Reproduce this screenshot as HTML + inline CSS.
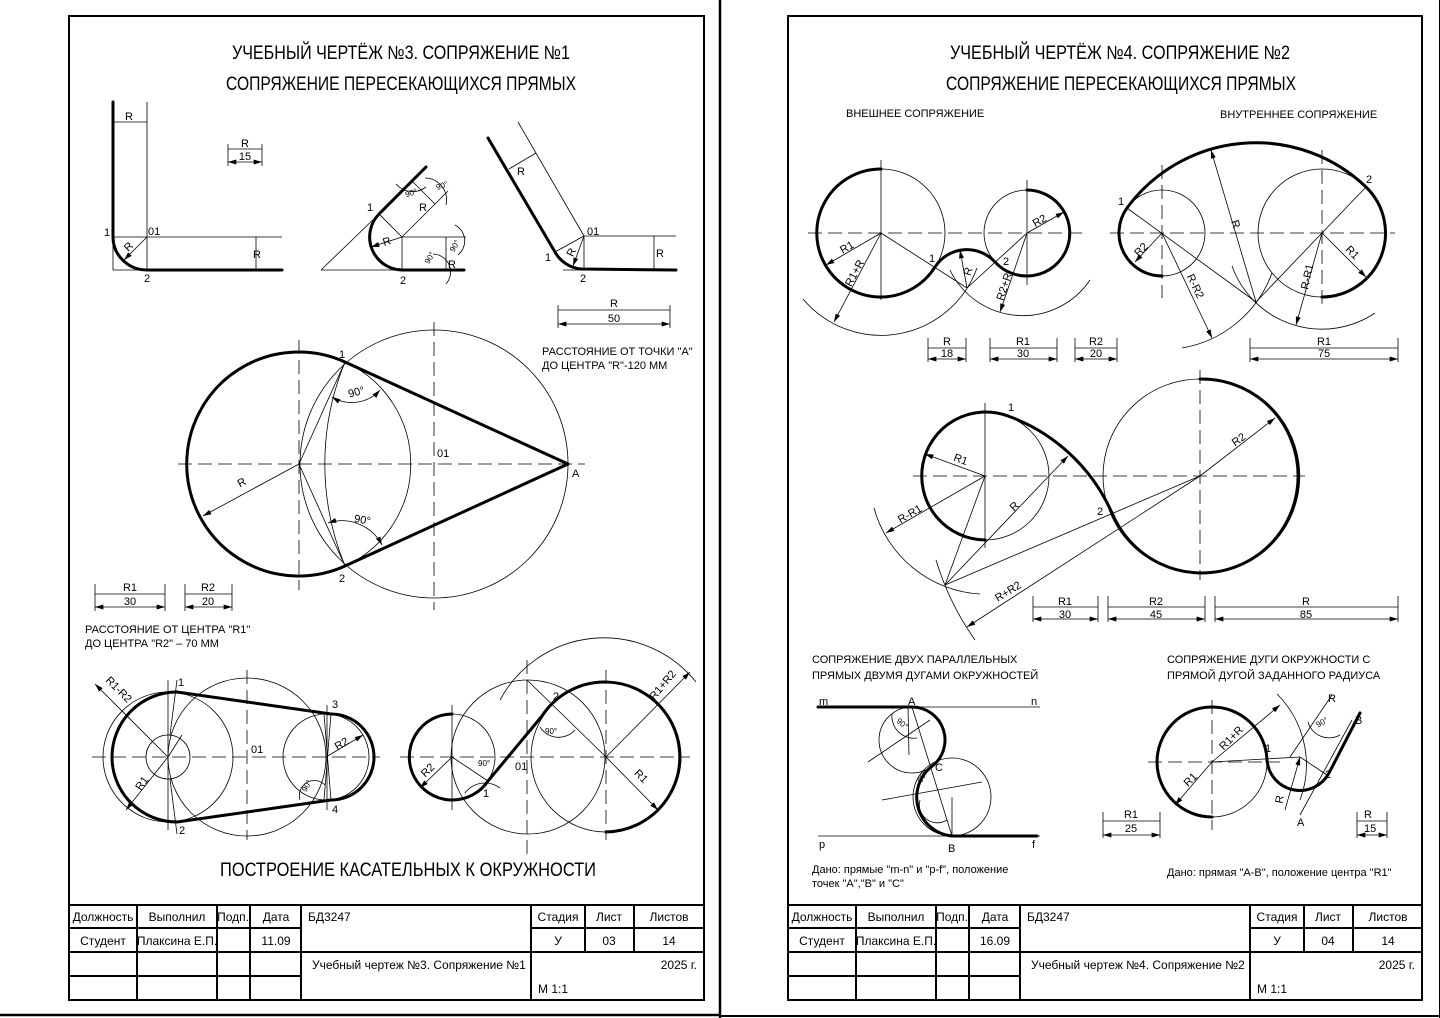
<!DOCTYPE html>
<html><head><meta charset="utf-8"><style>
html,body{margin:0;padding:0;background:#fff;}
svg{display:block;}
text{font-family:"Liberation Sans Narrow","Liberation Sans",sans-serif;fill:#000;}
.t{stroke:#000;stroke-width:0.8;fill:none;}
.k{stroke:#000;stroke-width:3;fill:none;stroke-linecap:round;}
.d{stroke:#000;stroke-width:0.8;fill:none;stroke-dasharray:14 6;}
.f{stroke:#000;stroke-width:2;fill:none;}
</style></head><body>
<svg width="1440" height="1018" viewBox="0 0 1440 1018" xmlns="http://www.w3.org/2000/svg">
<defs>
<marker id="a" viewBox="0 0 10 6" refX="10" refY="3" markerWidth="9" markerHeight="5" orient="auto-start-reverse" markerUnits="userSpaceOnUse"><path d="M0,0 L10,3 L0,6z" fill="#000"/></marker>
</defs>
<line x1="720" y1="0" x2="720" y2="1018" stroke="#000" stroke-width="2.5"/>
<line x1="0" y1="1015" x2="720" y2="1015" stroke="#000" stroke-width="2.5"/>
<line x1="1440" y1="0" x2="1440" y2="1018" stroke="#000" stroke-width="2"/>
<line x1="720" y1="1016" x2="1440" y2="1016" stroke="#000" stroke-width="2"/>

<!-- ================= LEFT SHEET ================= -->
<rect x="69" y="16" width="635" height="984" class="f"/>
<text x="401" y="59" font-size="19" text-anchor="middle" textLength="338" lengthAdjust="spacingAndGlyphs">УЧЕБНЫЙ ЧЕРТЁЖ №3. СОПРЯЖЕНИЕ №1</text>
<text x="401" y="90" font-size="19" text-anchor="middle" textLength="350" lengthAdjust="spacingAndGlyphs">СОПРЯЖЕНИЕ ПЕРЕСЕКАЮЩИХСЯ ПРЯМЫХ</text>

<!-- fig 1 -->
<line x1="147" y1="102" x2="147" y2="270" class="t"/>
<line x1="113" y1="237" x2="282" y2="237" class="t"/>
<line x1="113" y1="237" x2="113" y2="270" class="t"/>
<line x1="113" y1="270" x2="150" y2="270" class="t"/>
<line x1="113" y1="122" x2="147" y2="122" class="t"/>
<line x1="256" y1="237" x2="256" y2="270" class="t"/>
<line x1="147" y1="237" x2="124" y2="260" class="t" marker-end="url(#a)"/>
<path d="M113,102 L113,237 A34,33 0 0 0 147,270 L282,270" class="k"/>
<text x="125" y="120" font-size="11">R</text>
<text x="125" y="250" font-size="11" transform="rotate(-45 129 247)">R</text>
<text x="104" y="236" font-size="11">1</text>
<text x="148" y="235" font-size="11">01</text>
<text x="144" y="282" font-size="11">2</text>
<text x="253" y="258" font-size="11">R</text>
<line x1="228" y1="144" x2="228" y2="166" class="t"/><line x1="262" y1="144" x2="262" y2="166" class="t"/>
<line x1="228" y1="149" x2="262" y2="149" class="t"/>
<line x1="228" y1="162" x2="262" y2="162" class="t" marker-start="url(#a)" marker-end="url(#a)"/>
<text x="245" y="147" font-size="11" text-anchor="middle">R</text>
<text x="245" y="160" font-size="11" text-anchor="middle">15</text>

<!-- fig 2 -->
<line x1="321" y1="270" x2="379" y2="214" class="t"/>
<line x1="321" y1="270" x2="402" y2="270" class="t"/>
<line x1="402" y1="237" x2="379" y2="214" class="t"/>
<line x1="402" y1="237" x2="448" y2="191" class="t"/>
<line x1="402" y1="237" x2="466" y2="237" class="t"/>
<line x1="402" y1="237" x2="402" y2="270" class="t"/>
<line x1="446" y1="237" x2="446" y2="270" class="t"/>
<line x1="412" y1="181" x2="435" y2="204" class="t"/>
<line x1="402" y1="237" x2="371" y2="247" class="t" marker-end="url(#a)"/>
<path d="M426,167 L379,214 A33,33 0 0 0 402,270 L464,270" class="k"/>
<path d="M396,184 A22,22 0 0 0 426,187" class="t"/>
<path d="M425,178 A22,22 0 0 1 446,205" class="t"/>
<path d="M433,254 A18,18 0 0 1 446,284" class="t"/>
<path d="M455,225 A18,18 0 0 1 458,255" class="t"/>
<text x="405" y="196" font-size="8" transform="rotate(-20 410 193)">90°</text>
<text x="436" y="189" font-size="8" transform="rotate(-20 440 186)">90°</text>
<text x="423" y="262" font-size="8" transform="rotate(-60 428 258)">90°</text>
<text x="448" y="250" font-size="8" transform="rotate(-60 453 246)">90°</text>
<text x="419" y="211" font-size="11">R</text>
<text x="383" y="245" font-size="11" transform="rotate(-18 387 242)">R</text>
<text x="448" y="268" font-size="11">R</text>
<text x="367" y="211" font-size="11">1</text>
<text x="400" y="284" font-size="11">2</text>

<!-- fig 3 -->
<line x1="518" y1="122" x2="584" y2="236" class="t"/>
<line x1="509" y1="169" x2="536" y2="153" class="t"/>
<line x1="584" y1="236" x2="676" y2="236" class="t"/>
<line x1="584" y1="236" x2="584" y2="270" class="t"/>
<line x1="654" y1="236" x2="654" y2="270" class="t"/>
<line x1="563" y1="270" x2="584" y2="270" class="t"/>
<line x1="555" y1="252" x2="584" y2="236" class="t"/>
<line x1="584" y1="236" x2="573" y2="266" class="t" marker-end="url(#a)"/>
<path d="M488,138 L555,252 A33,33 0 0 0 582,269 L676,270" class="k"/>
<text x="517" y="175" font-size="11">R</text>
<text x="567" y="256" font-size="11" transform="rotate(-65 571 252)">R</text>
<text x="656" y="257" font-size="11">R</text>
<text x="587" y="235" font-size="11">01</text>
<text x="545" y="261" font-size="11">1</text>
<text x="580" y="282" font-size="11">2</text>
<line x1="558" y1="305" x2="558" y2="328" class="t"/><line x1="670" y1="305" x2="670" y2="328" class="t"/>
<line x1="558" y1="310" x2="670" y2="310" class="t"/>
<line x1="558" y1="324" x2="670" y2="324" class="t" marker-start="url(#a)" marker-end="url(#a)"/>
<text x="614" y="307" font-size="11" text-anchor="middle">R</text>
<text x="614" y="322" font-size="11" text-anchor="middle">50</text>
<text x="542" y="355" font-size="11">РАССТОЯНИЕ ОТ ТОЧКИ "А"</text>
<text x="542" y="369" font-size="11">ДО ЦЕНТРА "R"-120 ММ</text>

<!-- big tangent figure -->
<line x1="178" y1="464" x2="585" y2="464" class="d"/>
<line x1="299" y1="340" x2="299" y2="590" class="d"/>
<line x1="434" y1="322" x2="434" y2="610" class="d"/>
<circle cx="434" cy="464" r="134" class="t"/>
<path d="M345,362 A112,112 0 0 1 345,566" class="t"/>
<path d="M345,362 A268,268 0 0 0 345,566" class="t"/>
<line x1="299" y1="464" x2="345" y2="362" class="t"/>
<line x1="299" y1="464" x2="345" y2="566" class="t"/>
<line x1="299" y1="464" x2="203" y2="516" class="t" marker-end="url(#a)"/>
<path d="M332,397 A38,38 0 0 0 380,390" class="t" marker-start="url(#a)" marker-end="url(#a)"/>
<path d="M328,523 A45,45 0 0 1 382,545" class="t" marker-start="url(#a)" marker-end="url(#a)"/>
<path d="M345,362 A112,112 0 1 0 345,566 L568,464 Z" class="k" stroke-linejoin="round"/>
<text x="348" y="396" font-size="11" transform="rotate(-15 355 392)">90°</text>
<text x="354" y="523" font-size="11" transform="rotate(10 360 520)">90°</text>
<text x="238" y="486" font-size="11" transform="rotate(-28 242 483)">R</text>
<text x="339" y="358" font-size="11">1</text>
<text x="339" y="582" font-size="11">2</text>
<text x="437" y="457" font-size="11">01</text>
<text x="572" y="477" font-size="11">A</text>

<line x1="95" y1="584" x2="95" y2="611" class="t"/><line x1="165" y1="584" x2="165" y2="611" class="t"/>
<line x1="95" y1="594" x2="165" y2="594" class="t"/>
<line x1="95" y1="607" x2="165" y2="607" class="t" marker-start="url(#a)" marker-end="url(#a)"/>
<text x="130" y="591" font-size="11" text-anchor="middle">R1</text>
<text x="130" y="605" font-size="11" text-anchor="middle">30</text>
<line x1="185" y1="584" x2="185" y2="611" class="t"/><line x1="232" y1="584" x2="232" y2="611" class="t"/>
<line x1="185" y1="594" x2="232" y2="594" class="t"/>
<line x1="185" y1="607" x2="232" y2="607" class="t" marker-start="url(#a)" marker-end="url(#a)"/>
<text x="208" y="591" font-size="11" text-anchor="middle">R2</text>
<text x="208" y="605" font-size="11" text-anchor="middle">20</text>
<text x="85" y="633" font-size="11">РАССТОЯНИЕ ОТ ЦЕНТРА "R1"</text>
<text x="85" y="647" font-size="11">ДО ЦЕНТРА "R2" – 70 ММ</text>

<!-- bottom-left fig -->
<line x1="92" y1="757" x2="380" y2="757" class="d"/>
<line x1="168" y1="680" x2="168" y2="830" class="t"/>
<line x1="247" y1="670" x2="247" y2="840" class="d"/>
<line x1="327" y1="705" x2="327" y2="810" class="t"/>
<circle cx="168" cy="757" r="65" class="t"/>
<circle cx="168" cy="757" r="22" class="t"/>
<circle cx="326" cy="757" r="43" class="t"/>
<circle cx="247" cy="757" r="79" class="t"/>
<line x1="168" y1="757" x2="182" y2="735" class="t"/>
<line x1="95" y1="684" x2="168" y2="757" class="t" marker-start="url(#a)"/>
<line x1="168" y1="757" x2="126" y2="810" class="t" marker-end="url(#a)"/>
<line x1="326" y1="757" x2="363" y2="735" class="t" marker-end="url(#a)"/>
<line x1="170" y1="735" x2="177" y2="680" class="t"/>
<line x1="170" y1="779" x2="177" y2="834" class="t"/>
<line x1="331" y1="714" x2="324" y2="800" class="t"/>
<line x1="324" y1="714" x2="331" y2="800" class="t"/>
<path d="M300,800 A15,15 0 0 1 325,785" class="t"/>
<path d="M177,692 A65,65 0 1 0 177,822" class="k"/>
<path d="M331,714 A43,43 0 0 1 331,800" class="k"/>
<line x1="177" y1="692" x2="331" y2="714" class="k"/>
<line x1="177" y1="822" x2="331" y2="800" class="k"/>
<text x="95" y="685" font-size="11" transform="rotate(45 105 695)">R1-R2</text>
<text x="135" y="790" font-size="11" transform="rotate(-55 139 785)">R1</text>
<text x="334" y="748" font-size="11" transform="rotate(-30 340 743)">R2</text>
<text x="300" y="790" font-size="8" transform="rotate(-60 305 786)">90°</text>
<text x="178" y="686" font-size="11">1</text>
<text x="179" y="834" font-size="11">2</text>
<text x="332" y="708" font-size="11">3</text>
<text x="332" y="813" font-size="11">4</text>
<text x="251" y="753" font-size="11">01</text>

<!-- bottom-right fig -->
<line x1="400" y1="757" x2="690" y2="757" class="d"/>
<line x1="452" y1="705" x2="452" y2="810" class="t"/>
<line x1="527" y1="660" x2="527" y2="855" class="d"/>
<line x1="606" y1="670" x2="606" y2="840" class="d"/>
<circle cx="452" cy="757" r="43" class="t"/>
<circle cx="606" cy="757" r="75" class="t"/>
<circle cx="528" cy="757" r="77" class="t"/>
<path d="M500,700 A118,118 0 0 1 696,682" class="t"/>
<line x1="527" y1="680" x2="606" y2="757" class="t"/>
<line x1="606" y1="757" x2="690" y2="672" class="t" marker-end="url(#a)"/>
<line x1="606" y1="757" x2="658" y2="810" class="t" marker-end="url(#a)"/>
<line x1="452" y1="757" x2="420" y2="788" class="t" marker-end="url(#a)"/>
<line x1="452" y1="757" x2="488" y2="781" class="t"/>
<path d="M465,793 A25,25 0 0 1 500,788" class="t"/>
<path d="M540,727 A22,22 0 0 0 575,730" class="t"/>
<path d="M452,714 A43,43 0 1 0 488,781" class="k"/>
<line x1="488" y1="781" x2="542" y2="716" class="k"/>
<path d="M542,716 A75,75 0 1 1 606,832" class="k"/>
<text x="420" y="775" font-size="11" transform="rotate(-45 426 770)">R2</text>
<text x="478" y="766" font-size="8">90°</text>
<text x="545" y="734" font-size="8">90°</text>
<text x="636" y="778" font-size="11" transform="rotate(45 640 773)">R1</text>
<text x="648" y="697" font-size="11" transform="rotate(-50 655 692)">R1+R2</text>
<text x="483" y="797" font-size="11">1</text>
<text x="553" y="700" font-size="11">2</text>
<text x="515" y="770" font-size="11">01</text>

<text x="408" y="876" font-size="19" text-anchor="middle" textLength="376" lengthAdjust="spacingAndGlyphs">ПОСТРОЕНИЕ КАСАТЕЛЬНЫХ К ОКРУЖНОСТИ</text>

<g stroke="#000" stroke-width="2" fill="none">
<line x1="69" y1="905" x2="704" y2="905"/>
<line x1="69" y1="928" x2="301" y2="928"/><line x1="531" y1="928" x2="704" y2="928"/>
<line x1="69" y1="952" x2="704" y2="952"/>
<line x1="69" y1="976" x2="301" y2="976"/>
<line x1="137" y1="905" x2="137" y2="1000"/><line x1="217" y1="905" x2="217" y2="1000"/>
<line x1="250" y1="905" x2="250" y2="1000"/><line x1="301" y1="905" x2="301" y2="1000"/>
<line x1="531" y1="905" x2="531" y2="1000"/>
<line x1="585" y1="905" x2="585" y2="952"/><line x1="634" y1="905" x2="634" y2="952"/>
</g>
<g font-size="12" text-anchor="middle">
<text x="103" y="921">Должность</text><text x="177" y="921">Выполнил</text><text x="233" y="921">Подп.</text><text x="276" y="921">Дата</text>
<text x="558" y="921">Стадия</text><text x="609" y="921">Лист</text><text x="669" y="921">Листов</text>
<text x="103" y="945">Студент</text><text x="177" y="945">Плаксина Е.П.</text><text x="276" y="945">11.09</text>
<text x="558" y="945">У</text><text x="609" y="945">03</text><text x="669" y="945">14</text>
</g>
<text x="308" y="921" font-size="12">БД3247</text>
<text x="312" y="969" font-size="12">Учебный чертеж №3. Сопряжение №1</text>
<text x="697" y="969" font-size="12" text-anchor="end">2025 г.</text>
<text x="538" y="993" font-size="12">М 1:1</text>

<!-- ================= RIGHT SHEET ================= -->
<rect x="788" y="16" width="634" height="984" class="f"/>
<text x="1120" y="59" font-size="19" text-anchor="middle" textLength="340" lengthAdjust="spacingAndGlyphs">УЧЕБНЫЙ ЧЕРТЁЖ №4. СОПРЯЖЕНИЕ №2</text>
<text x="1121" y="90" font-size="19" text-anchor="middle" textLength="350" lengthAdjust="spacingAndGlyphs">СОПРЯЖЕНИЕ ПЕРЕСЕКАЮЩИХСЯ ПРЯМЫХ</text>
<text x="846" y="117" font-size="11">ВНЕШНЕЕ СОПРЯЖЕНИЕ</text>
<text x="1220" y="118" font-size="11">ВНУТРЕННЕЕ СОПРЯЖЕНИЕ</text>

<!-- external conjugation -->
<line x1="808" y1="233" x2="1082" y2="233" class="d"/>
<line x1="881" y1="160" x2="881" y2="300" class="t"/>
<line x1="1027" y1="180" x2="1027" y2="285" class="t"/>
<circle cx="881" cy="233" r="64" class="t"/>
<circle cx="1027" cy="233" r="43" class="t"/>
<path d="M803,299 A102,102 0 0 0 977,268" class="t"/>
<path d="M950,270 A81,81 0 0 0 1090,280" class="t"/>
<line x1="881" y1="233" x2="967" y2="288" class="t"/>
<line x1="1027" y1="233" x2="967" y2="288" class="t"/>
<line x1="881" y1="233" x2="826" y2="265" class="t" marker-end="url(#a)"/>
<line x1="881" y1="233" x2="834" y2="322" class="t" marker-end="url(#a)"/>
<line x1="1027" y1="233" x2="1064" y2="212" class="t" marker-end="url(#a)"/>
<line x1="1027" y1="233" x2="1000" y2="312" class="t" marker-end="url(#a)"/>
<line x1="967" y1="288" x2="960" y2="250" class="t" marker-end="url(#a)"/>
<path d="M881,169 A64,64 0 1 0 935,267 A38,38 0 0 1 995,262 A43,43 0 1 0 1027,190" class="k"/>
<text x="840" y="252" font-size="11" transform="rotate(-30 845 248)">R1</text>
<text x="845" y="285" font-size="11" transform="rotate(-62 850 281)">R1+R</text>
<text x="1032" y="225" font-size="11" transform="rotate(-30 1038 220)">R2</text>
<text x="995" y="300" font-size="11" transform="rotate(-72 1000 295)">R2+R</text>
<text x="962" y="275" font-size="11" transform="rotate(-72 967 270)">R</text>
<text x="929" y="262" font-size="11">1</text>
<text x="1003" y="265" font-size="11">2</text>
<g>
<line x1="928" y1="338" x2="928" y2="362" class="t"/><line x1="966" y1="338" x2="966" y2="362" class="t"/>
<line x1="928" y1="348" x2="966" y2="348" class="t"/>
<line x1="928" y1="359" x2="966" y2="359" class="t" marker-start="url(#a)" marker-end="url(#a)"/>
<text x="947" y="345" font-size="11" text-anchor="middle">R</text><text x="947" y="357" font-size="11" text-anchor="middle">18</text>
<line x1="990" y1="338" x2="990" y2="362" class="t"/><line x1="1057" y1="338" x2="1057" y2="362" class="t"/>
<line x1="990" y1="348" x2="1057" y2="348" class="t"/>
<line x1="990" y1="359" x2="1057" y2="359" class="t" marker-start="url(#a)" marker-end="url(#a)"/>
<text x="1023" y="345" font-size="11" text-anchor="middle">R1</text><text x="1023" y="357" font-size="11" text-anchor="middle">30</text>
<line x1="1075" y1="338" x2="1075" y2="362" class="t"/><line x1="1117" y1="338" x2="1117" y2="362" class="t"/>
<line x1="1075" y1="348" x2="1117" y2="348" class="t"/>
<line x1="1075" y1="359" x2="1117" y2="359" class="t" marker-start="url(#a)" marker-end="url(#a)"/>
<text x="1096" y="345" font-size="11" text-anchor="middle">R2</text><text x="1096" y="357" font-size="11" text-anchor="middle">20</text>
<line x1="1250" y1="338" x2="1250" y2="362" class="t"/><line x1="1398" y1="338" x2="1398" y2="362" class="t"/>
<line x1="1250" y1="348" x2="1398" y2="348" class="t"/>
<line x1="1250" y1="359" x2="1398" y2="359" class="t" marker-start="url(#a)" marker-end="url(#a)"/>
<text x="1324" y="345" font-size="11" text-anchor="middle">R1</text><text x="1324" y="357" font-size="11" text-anchor="middle">75</text>
</g>

<!-- internal conjugation -->
<line x1="1110" y1="233" x2="1395" y2="233" class="d"/>
<line x1="1162" y1="165" x2="1162" y2="298" class="d"/>
<line x1="1322" y1="150" x2="1322" y2="310" class="d"/>
<circle cx="1162" cy="233" r="43" class="t"/>
<circle cx="1322" cy="233" r="64" class="t"/>
<path d="M1272,273 A116.6,116.6 0 0 1 1182,348" class="t"/>
<path d="M1375,313 A95.5,95.5 0 0 1 1232,266" class="t"/>
<line x1="1127" y1="208" x2="1256" y2="302" class="t"/>
<line x1="1366" y1="187" x2="1256" y2="302" class="t"/>
<line x1="1162" y1="233" x2="1135" y2="262" class="t" marker-end="url(#a)"/>
<line x1="1162" y1="233" x2="1212" y2="338" class="t" marker-end="url(#a)"/>
<line x1="1322" y1="233" x2="1366" y2="277" class="t" marker-end="url(#a)"/>
<line x1="1322" y1="233" x2="1296" y2="325" class="t" marker-end="url(#a)"/>
<line x1="1256" y1="302" x2="1211" y2="150" class="t" marker-end="url(#a)"/>
<path d="M1162,276 A43,43 0 0 1 1127,208 A159.5,159.5 0 0 1 1366,187 A64,64 0 0 1 1322,297" class="k"/>
<text x="1134" y="254" font-size="11" transform="rotate(-45 1140 250)">R2</text>
<text x="1188" y="282" font-size="11" transform="rotate(65 1192 278)">R-R2</text>
<text x="1232" y="228" font-size="11" transform="rotate(72 1236 224)">R</text>
<text x="1300" y="290" font-size="11" transform="rotate(-78 1304 285)">R-R1</text>
<text x="1347" y="255" font-size="11" transform="rotate(45 1352 250)">R1</text>
<text x="1118" y="205" font-size="11">1</text>
<text x="1366" y="183" font-size="11">2</text>

<!-- middle figure -->
<line x1="913" y1="476" x2="1305" y2="476" class="d"/>
<line x1="985" y1="403" x2="985" y2="548" class="t"/>
<line x1="1200" y1="370" x2="1200" y2="580" class="d"/>
<circle cx="985" cy="476" r="64" class="t"/>
<circle cx="1200" cy="476" r="97" class="t"/>
<path d="M874,508 A117,117 0 0 0 980,594" class="t"/>
<path d="M936,560 A278,278 0 0 0 975,640" class="t"/>
<line x1="945" y1="585" x2="985" y2="476" class="t"/>
<line x1="945" y1="585" x2="1200" y2="476" class="t"/>
<line x1="945" y1="585" x2="1068" y2="456" class="t" marker-end="url(#a)"/>
<line x1="985" y1="476" x2="886" y2="533" class="t" marker-end="url(#a)"/>
<line x1="985" y1="476" x2="925" y2="454" class="t" marker-end="url(#a)"/>
<line x1="1200" y1="476" x2="1275" y2="418" class="t" marker-end="url(#a)"/>
<line x1="1200" y1="476" x2="967" y2="627" class="t" marker-end="url(#a)"/>
<path d="M1008,416 A64,64 0 1 0 985,540" class="k"/>
<path d="M1008,416 A181,181 0 0 1 1112,513 A97,97 0 1 0 1200,379" class="k"/>
<text x="954" y="462" font-size="11" transform="rotate(20 958 458)">R1</text>
<text x="898" y="522" font-size="11" transform="rotate(-30 902 518)">R-R1</text>
<text x="1010" y="510" font-size="11" transform="rotate(-45 1014 506)">R</text>
<text x="1232" y="445" font-size="11" transform="rotate(-35 1236 441)">R2</text>
<text x="995" y="600" font-size="11" transform="rotate(-32 1000 596)">R+R2</text>
<text x="1008" y="411" font-size="11">1</text>
<text x="1097" y="515" font-size="11">2</text>
<g>
<line x1="1033" y1="596" x2="1033" y2="622" class="t"/><line x1="1098" y1="596" x2="1098" y2="622" class="t"/>
<line x1="1033" y1="607" x2="1098" y2="607" class="t"/>
<line x1="1033" y1="619" x2="1098" y2="619" class="t" marker-start="url(#a)" marker-end="url(#a)"/>
<text x="1065" y="605" font-size="11" text-anchor="middle">R1</text><text x="1065" y="618" font-size="11" text-anchor="middle">30</text>
<line x1="1108" y1="596" x2="1108" y2="622" class="t"/><line x1="1205" y1="596" x2="1205" y2="622" class="t"/>
<line x1="1108" y1="607" x2="1205" y2="607" class="t"/>
<line x1="1108" y1="619" x2="1205" y2="619" class="t" marker-start="url(#a)" marker-end="url(#a)"/>
<text x="1156" y="605" font-size="11" text-anchor="middle">R2</text><text x="1156" y="618" font-size="11" text-anchor="middle">45</text>
<line x1="1215" y1="596" x2="1215" y2="622" class="t"/><line x1="1398" y1="596" x2="1398" y2="622" class="t"/>
<line x1="1215" y1="607" x2="1398" y2="607" class="t"/>
<line x1="1215" y1="619" x2="1398" y2="619" class="t" marker-start="url(#a)" marker-end="url(#a)"/>
<text x="1306" y="605" font-size="11" text-anchor="middle">R</text><text x="1306" y="618" font-size="11" text-anchor="middle">85</text>
</g>

<!-- parallel lines conjugation -->
<text x="812" y="663" font-size="11">СОПРЯЖЕНИЕ ДВУХ ПАРАЛЛЕЛЬНЫХ</text>
<text x="812" y="679" font-size="11">ПРЯМЫХ ДВУМЯ ДУГАМИ ОКРУЖНОСТЕЙ</text>
<line x1="818" y1="707" x2="1040" y2="707" class="t"/>
<line x1="818" y1="836" x2="1040" y2="836" class="t"/>
<circle cx="912" cy="740" r="33" class="t"/>
<circle cx="952" cy="797" r="39" class="t"/>
<line x1="868" y1="762" x2="930" y2="720" class="t"/>
<line x1="882" y1="800" x2="982" y2="782" class="t"/>
<line x1="912" y1="707" x2="952" y2="836" class="t"/>
<line x1="908" y1="707" x2="909" y2="755" class="t"/>
<line x1="952" y1="797" x2="952" y2="836" class="t"/>
<path d="M892,714 A22,22 0 0 0 917,738" class="t"/>
<path d="M920,800 A18,18 0 0 0 947,820" class="t"/>
<path d="M818,707 L912,707 A33,33 0 0 1 931,767 A39,39 0 0 0 952,836 L1037,836" class="k"/>
<text x="897" y="725" font-size="8" transform="rotate(40 901 722)">90°</text>
<text x="917" y="781" font-size="8" transform="rotate(-60 921 778)">90°</text>
<text x="819" y="705" font-size="11">m</text>
<text x="1031" y="705" font-size="11">n</text>
<text x="908" y="705" font-size="11">A</text>
<text x="935" y="771" font-size="11">C</text>
<text x="819" y="848" font-size="11">p</text>
<text x="948" y="852" font-size="11">B</text>
<text x="1032" y="848" font-size="11">f</text>
<text x="812" y="873" font-size="11">Дано: прямые "m-n" и "p-f", положение</text>
<text x="812" y="887" font-size="11">точек "А","В" и "С"</text>

<!-- arc + line conjugation -->
<text x="1167" y="663" font-size="11">СОПРЯЖЕНИЕ ДУГИ ОКРУЖНОСТИ С</text>
<text x="1167" y="679" font-size="11">ПРЯМОЙ ДУГОЙ ЗАДАННОГО РАДИУСА</text>
<line x1="1148" y1="762" x2="1280" y2="762" class="d"/>
<line x1="1212" y1="700" x2="1212" y2="830" class="d"/>
<circle cx="1212" cy="762" r="55" class="t"/>
<path d="M1277,694 A100,100 0 0 1 1300,800" class="t"/>
<line x1="1212" y1="762" x2="1300" y2="757" class="t"/>
<line x1="1212" y1="762" x2="1280" y2="705" class="t" marker-end="url(#a)"/>
<line x1="1212" y1="762" x2="1175" y2="805" class="t" marker-end="url(#a)"/>
<line x1="1300" y1="757" x2="1327" y2="775" class="t"/>
<line x1="1300" y1="757" x2="1285" y2="810" class="t" marker-start="url(#a)"/>
<line x1="1300" y1="815" x2="1352" y2="720" class="t"/>
<line x1="1290" y1="757" x2="1332" y2="695" class="t"/>
<path d="M1308,722 A22,22 0 0 0 1340,735" class="t"/>
<path d="M1267,760 A55,55 0 1 0 1212,817" class="k"/>
<path d="M1267,760 A33,33 0 0 0 1329,773 L1360,713" class="k"/>
<text x="1220" y="748" font-size="11" transform="rotate(-45 1225 745)">R1+R</text>
<text x="1183" y="785" font-size="11" transform="rotate(-45 1188 780)">R1</text>
<text x="1275" y="805" font-size="11" transform="rotate(-80 1278 800)">R</text>
<text x="1316" y="726" font-size="8" transform="rotate(-30 1320 723)">90°</text>
<text x="1328" y="702" font-size="11">R</text>
<text x="1265" y="752" font-size="11">1</text>
<text x="1325" y="778" font-size="11">2</text>
<text x="1355" y="724" font-size="11">B</text>
<text x="1297" y="826" font-size="11">A</text>
<g>
<line x1="1103" y1="812" x2="1103" y2="838" class="t"/><line x1="1160" y1="812" x2="1160" y2="838" class="t"/>
<line x1="1103" y1="821" x2="1160" y2="821" class="t"/>
<line x1="1103" y1="835" x2="1160" y2="835" class="t" marker-start="url(#a)" marker-end="url(#a)"/>
<text x="1131" y="818" font-size="11" text-anchor="middle">R1</text><text x="1131" y="832" font-size="11" text-anchor="middle">25</text>
<line x1="1357" y1="812" x2="1357" y2="838" class="t"/><line x1="1387" y1="812" x2="1387" y2="838" class="t"/>
<line x1="1357" y1="821" x2="1387" y2="821" class="t"/>
<line x1="1357" y1="835" x2="1387" y2="835" class="t" marker-start="url(#a)" marker-end="url(#a)"/>
<text x="1364" y="818" font-size="11">R</text><text x="1364" y="832" font-size="11">15</text>
</g>
<text x="1167" y="876" font-size="11">Дано: прямая "А-В", положение центра "R1"</text>

<g stroke="#000" stroke-width="2" fill="none">
<line x1="788" y1="905" x2="1422" y2="905"/>
<line x1="788" y1="928" x2="1020" y2="928"/><line x1="1250" y1="928" x2="1422" y2="928"/>
<line x1="788" y1="952" x2="1422" y2="952"/>
<line x1="788" y1="976" x2="1020" y2="976"/>
<line x1="856" y1="905" x2="856" y2="1000"/><line x1="936" y1="905" x2="936" y2="1000"/>
<line x1="969" y1="905" x2="969" y2="1000"/><line x1="1020" y1="905" x2="1020" y2="1000"/>
<line x1="1250" y1="905" x2="1250" y2="1000"/>
<line x1="1304" y1="905" x2="1304" y2="952"/><line x1="1353" y1="905" x2="1353" y2="952"/>
</g>
<g font-size="12" text-anchor="middle">
<text x="822" y="921">Должность</text><text x="896" y="921">Выполнил</text><text x="952" y="921">Подп.</text><text x="995" y="921">Дата</text>
<text x="1277" y="921">Стадия</text><text x="1328" y="921">Лист</text><text x="1388" y="921">Листов</text>
<text x="822" y="945">Студент</text><text x="896" y="945">Плаксина Е.П.</text><text x="995" y="945">16.09</text>
<text x="1277" y="945">У</text><text x="1328" y="945">04</text><text x="1388" y="945">14</text>
</g>
<text x="1027" y="921" font-size="12">БД3247</text>
<text x="1031" y="969" font-size="12">Учебный чертеж №4. Сопряжение №2</text>
<text x="1415" y="969" font-size="12" text-anchor="end">2025 г.</text>
<text x="1257" y="993" font-size="12">М 1:1</text>
</svg>
</body></html>
